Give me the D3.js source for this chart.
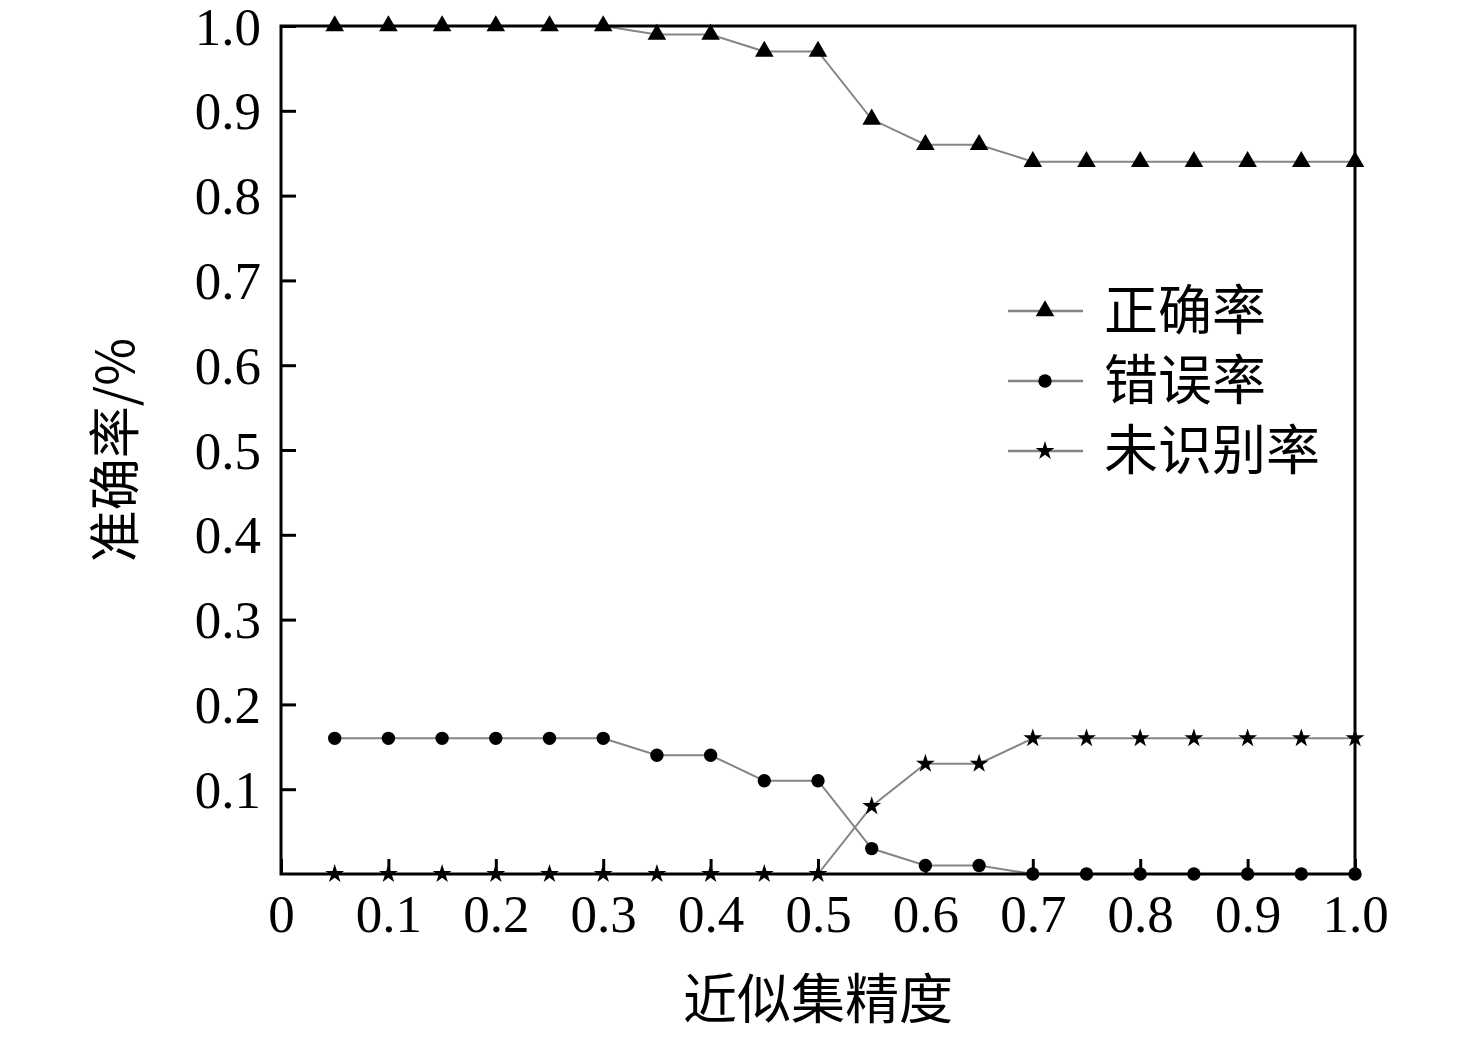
<!DOCTYPE html>
<html><head><meta charset="utf-8">
<script src="https://cdn.jsdelivr.net/npm/d3@7/dist/d3.min.js"></script>
<style>body{margin:0;background:#fff;} svg{display:block;}</style>
</head><body>
<svg id="chart" width="1476" height="1038"></svg>
<script>
const xValues = [0.05,0.1,0.15,0.2,0.25,0.3,0.35,0.4,0.45,0.5,0.55,0.6,0.65,0.7,0.75,0.8,0.85,0.9,0.95,1.0];
const correctRate = [1,1,1,1,1,1,0.99,0.99,0.97,0.97,0.89,0.86,0.86,0.84,0.84,0.84,0.84,0.84,0.84,0.84];
const errorRate = [0.16,0.16,0.16,0.16,0.16,0.16,0.14,0.14,0.11,0.11,0.03,0.01,0.01,0,0,0,0,0,0,0];
const unknownRate = [0,0,0,0,0,0,0,0,0,0,0.08,0.13,0.13,0.16,0.16,0.16,0.16,0.16,0.16,0.16];
const seriesNames = ["正确率","错误率","未识别率"];
const xTicks = [0,0.1,0.2,0.3,0.4,0.5,0.6,0.7,0.8,0.9,1.0];
const xTickLabels = ["0","0.1","0.2","0.3","0.4","0.5","0.6","0.7","0.8","0.9","1.0"];
const yTicks = [0.1,0.2,0.3,0.4,0.5,0.6,0.7,0.8,0.9,1.0];
const yTickLabels = ["0.1","0.2","0.3","0.4","0.5","0.6","0.7","0.8","0.9","1.0"];
const xTitle = "近似集精度";
const yTitle = "准确率/%";

const svg = d3.select("#chart");
const L = 281, R = 1355, T = 26, B = 874;
const x = d3.scaleLinear().domain([0,1]).range([L,R]);
const y = d3.scaleLinear().domain([0,1]).range([B,T]);
const serif = "'Liberation Serif','Times New Roman',serif";
const cjk = "'Noto Sans CJK SC','Noto Sans CJK JP',sans-serif";

// lines
const series = [correctRate, errorRate, unknownRate];
const symbols = [d3.symbolTriangle, d3.symbolCircle, d3.symbolStar];
const symSizes = [150, 140, 110];
const line = d3.line().x(d=>x(d[0])).y(d=>y(d[1]));
series.forEach((vals,i)=>{
  const pts = xValues.map((xv,j)=>[xv, vals[j]]);
  svg.append("path").attr("d", line(pts)).attr("fill","none").attr("stroke","#858585").attr("stroke-width",2);
});

// axes
const xAxis = d3.axisBottom(x).tickValues(xTicks).tickSize(-15).tickFormat((d,i)=>xTickLabels[i]);
const gx = svg.append("g").attr("transform",`translate(0,${B})`).call(xAxis);
const yAxis = d3.axisLeft(y).tickValues(yTicks).tickSize(-15).tickFormat((d,i)=>yTickLabels[i]);
const gy = svg.append("g").attr("transform",`translate(${L},0)`).call(yAxis);
[gx,gy].forEach(g=>{
  g.select(".domain").remove();
  g.selectAll(".tick line").attr("stroke","#000").attr("stroke-width",3);
  g.selectAll(".tick text").attr("font-family",serif).attr("font-size",53).attr("fill","#000");
});
gx.selectAll(".tick text").attr("dy",null).attr("y", 58);
gy.selectAll(".tick text").attr("x",-20).attr("dy",null).attr("y",18);

// frame
svg.append("rect").attr("x",L).attr("y",T).attr("width",R-L).attr("height",B-T)
  .attr("fill","none").attr("stroke","#000").attr("stroke-width",3);

// markers
series.forEach((vals,i)=>{
  svg.append("g").selectAll("path").data(xValues.map((xv,j)=>[xv, vals[j]])).join("path")
    .attr("d", d3.symbol().type(symbols[i]).size(symSizes[i]))
    .attr("transform", d=>`translate(${x(d[0])},${y(d[1])})`)
    .attr("fill","#000");
});

// legend
const lg = svg.append("g");
const legY = [311, 381, 451];
seriesNames.forEach((n,i)=>{
  lg.append("line").attr("x1",1008).attr("x2",1083).attr("y1",legY[i]).attr("y2",legY[i])
    .attr("stroke","#858585").attr("stroke-width",2.5);
  lg.append("path").attr("d", d3.symbol().type(symbols[i]).size(symSizes[i]))
    .attr("transform",`translate(1045,${legY[i]})`).attr("fill","#000");
  lg.append("text").attr("x",1104).attr("y",legY[i]).attr("dy","0.36em")
    .attr("font-family",cjk).attr("font-size",54).attr("fill","#000").text(n);
});

// titles
svg.append("text").attr("x",(L+R)/2).attr("y",1000).attr("dy","0.36em").attr("text-anchor","middle")
  .attr("font-family",cjk).attr("font-size",54).attr("fill","#000").text(xTitle);
svg.append("text").attr("transform",`translate(115,${(T+B)/2}) rotate(-90)`).attr("dy","0.36em")
  .attr("text-anchor","middle").attr("font-family",cjk).attr("font-size",52).attr("fill","#000").text(yTitle);
</script>
</body></html>
